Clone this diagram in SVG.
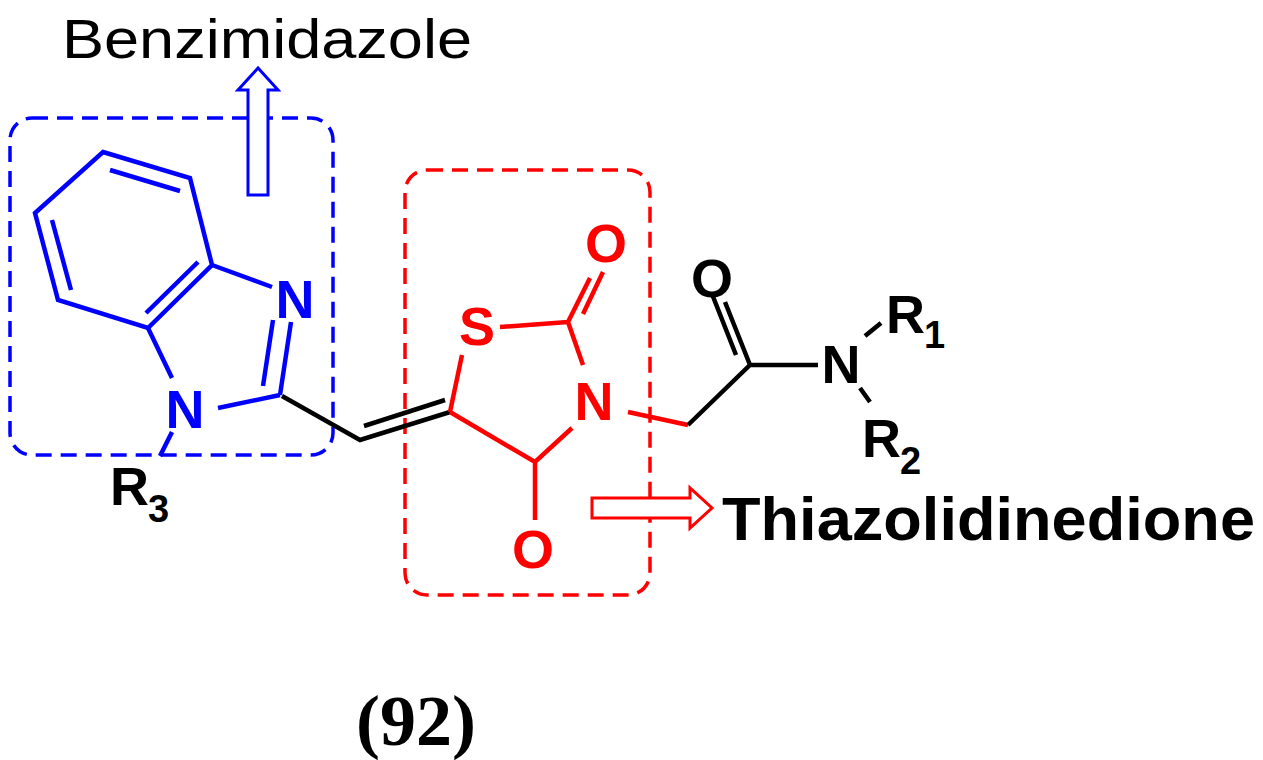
<svg xmlns="http://www.w3.org/2000/svg" width="1263" height="760" viewBox="0 0 1263 760">
<style>
.b{stroke:#0000ff;stroke-width:4.5;fill:none}
.r{stroke:#ff0000;stroke-width:4.5;fill:none}
.k{stroke:#000;stroke-width:4.5;fill:none}
.t{font-family:"Liberation Sans",Arial,sans-serif;font-weight:bold;font-size:54px}
.s{font-family:"Liberation Sans",Arial,sans-serif;font-weight:bold;font-size:38px}
</style>
<rect width="1263" height="760" fill="#fff"/>
<rect x="10" y="118" width="323" height="337" rx="22" fill="none" stroke="#0000ff" stroke-width="3.5" stroke-dasharray="16,9"/>
<rect x="405" y="170" width="245" height="425" rx="22" fill="none" stroke="#ff0000" stroke-width="3.5" stroke-dasharray="16,9"/>
<g id="benzimidazole">
<path class="b" d="M103,152 L190,178 L212,265 L148,328 L58,300 L35,213 Z"/>
<path class="b" d="M110,170 L180,191 M52,220 L71,290 M198,262 L146,313"/>
<path class="b" d="M212,265 L272,287 M291,322 L280,395 M273,320 L263,386 M280,395 L218,408 M148,328 L172,378 M172,432 L160,456"/>
<text x="295" y="318" class="t" fill="#0000ff" text-anchor="middle">N</text>
<text x="185" y="428" class="t" fill="#0000ff" text-anchor="middle">N</text>
<text x="110" y="505" class="t" fill="#000">R</text>
<text x="148" y="522" class="s" fill="#000">3</text>
</g>
<g id="linker">
<path class="k" d="M282,396 L360,440 L450,412 M364,426 L445,400"/>
</g>
<g id="tzd">
<path class="r" d="M450,412 L462,355 M500,327 L568,322 M568,322 L583,365 M568,322 L590,278 M583,314 L603,272 M572,428 L535,462 L450,412 M535,462 L535,520 M628,412 L688,425"/>
<text x="477" y="345" class="t" fill="#ff0000" text-anchor="middle">S</text>
<text x="606" y="262" class="t" fill="#ff0000" text-anchor="middle">O</text>
<text x="594" y="420" class="t" fill="#ff0000" text-anchor="middle">N</text>
<text x="533" y="568" class="t" fill="#ff0000" text-anchor="middle">O</text>
</g>
<g id="amide">
<path class="k" d="M688,425 L750,365 L818,365 M750,365 L725,302 M736,355 L712,294 M865,336 L881,323 M860,388 L870,402"/>
<text x="712" y="297" class="t" fill="#000" text-anchor="middle">O</text>
<text x="841" y="383" class="t" fill="#000" text-anchor="middle">N</text>
<text x="886" y="333" class="t" fill="#000">R</text>
<text x="924" y="348" class="s" fill="#000">1</text>
<text x="862" y="457" class="t" fill="#000">R</text>
<text x="900" y="474" class="s" fill="#000">2</text>
</g>
<path d="M248,195 L248,90 L238,90 L258,68 L278,90 L268,90 L268,195 Z" fill="#fff" stroke="#0000ff" stroke-width="3"/>
<path d="M592,498 L690,498 L690,488 L712,508 L690,528 L690,518 L592,518 Z" fill="#fff" stroke="#ff0000" stroke-width="3"/>
<text x="62" y="58" font-family="Liberation Sans,Arial,sans-serif" textLength="410" lengthAdjust="spacingAndGlyphs" fill="#000" style="font-size:56px">Benzimidazole</text>
<text x="722" y="540" class="t" textLength="533" lengthAdjust="spacingAndGlyphs" style="font-size:62px" fill="#000">Thiazolidinedione</text>
<text x="416" y="745" font-family="Liberation Serif,serif" font-weight="bold" font-size="72" fill="#000" text-anchor="middle">(92)</text>
</svg>
